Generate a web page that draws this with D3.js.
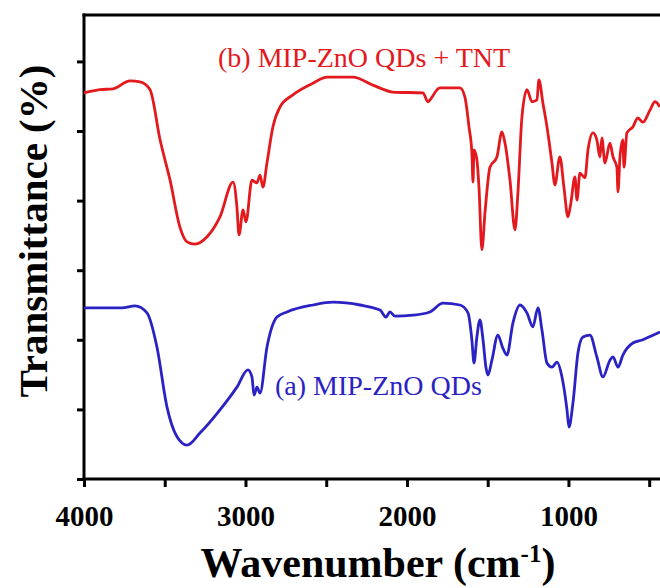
<!DOCTYPE html>
<html>
<head>
<meta charset="utf-8">
<script src="https://cdn.jsdelivr.net/npm/d3@7"></script>
<style>
  body { margin: 0; background: #fff; }
  svg { display: block; }
</style>
</head>
<body>
<div id="chart"></div>
<script>
// wavenumber (cm-1) and transmittance (arb. %)
var wnB = [4000, 3901, 3820, 3715, 3653, 3591, 3529, 3467, 3406, 3362, 3313, 3238, 3158, 3077, 3053, 3040, 3015, 2997, 2960, 2929, 2910, 2892, 2867, 2830, 2786, 2706, 2582, 2495, 2334, 2211, 2087, 1901, 1870, 1845, 1814, 1796, 1672, 1641, 1616, 1598, 1591, 1585, 1567, 1554, 1536, 1517, 1486, 1443, 1412, 1393, 1362, 1331, 1313, 1288, 1257, 1226, 1195, 1183, 1158, 1133, 1102, 1084, 1053, 1028, 1003, 985, 960, 947, 929, 898, 879, 848, 824, 805, 793, 774, 743, 724, 700, 693, 681, 663, 656, 638, 601, 570, 539, 495, 464, 433];
var tB = [83.2, 83.9, 84.1, 85.8, 85.6, 83.9, 73.1, 64.4, 54.3, 51.1, 50.6, 52.2, 56.5, 64.0, 58.6, 52.6, 58.0, 55.4, 64.4, 63.8, 65.5, 62.9, 68.1, 75.9, 80.2, 82.8, 85.3, 86.6, 86.6, 84.9, 83.4, 83.2, 81.3, 82.3, 83.9, 84.3, 84.3, 82.3, 75.9, 70.3, 64.0, 70.9, 68.8, 62.9, 49.4, 57.3, 67.2, 69.4, 74.8, 72.4, 64.4, 53.7, 61.6, 78.0, 83.9, 81.3, 81.7, 86.0, 81.0, 75.9, 68.1, 63.4, 69.4, 62.9, 56.5, 59.5, 65.1, 60.1, 65.9, 64.9, 70.9, 74.6, 73.1, 69.4, 73.5, 68.1, 72.4, 69.4, 67.2, 61.9, 69.4, 73.1, 67.2, 74.6, 75.9, 77.8, 76.9, 79.5, 81.3, 80.2];

var wnA = [4000, 3765, 3684, 3610, 3548, 3486, 3424, 3362, 3282, 3158, 3053, 2985, 2960, 2947, 2929, 2910, 2867, 2805, 2743, 2582, 2458, 2291, 2167, 2130, 2105, 2074, 1963, 1858, 1777, 1672, 1622, 1598, 1585, 1567, 1548, 1529, 1511, 1498, 1474, 1437, 1406, 1381, 1344, 1300, 1257, 1220, 1189, 1164, 1133, 1102, 1071, 1040, 1009, 997, 972, 941, 910, 867, 824, 786, 743, 724, 693, 663, 601, 539, 477, 433];
var tA = [36.9, 36.9, 37.3, 35.8, 28.4, 15.5, 9.1, 7.3, 9.9, 14.9, 19.8, 23.5, 22.0, 18.1, 19.8, 18.5, 28.4, 34.9, 36.0, 37.5, 38.1, 37.5, 36.4, 34.9, 36.0, 35.1, 35.3, 36.0, 37.9, 37.5, 35.8, 30.0, 25.0, 30.6, 34.3, 30.0, 24.1, 22.4, 25.6, 31.0, 28.2, 26.7, 33.6, 37.5, 35.8, 32.8, 36.9, 32.1, 25.0, 24.1, 25.2, 22.0, 14.9, 11.2, 16.4, 27.2, 30.6, 31.0, 26.3, 22.0, 25.6, 26.3, 24.1, 26.7, 29.3, 30.0, 31.0, 31.7];

var xTickMajor = [4000, 3000, 2000, 1000];
var xTickMinor = [3500, 2500, 1500, 500];
var yTicks = [0, 15, 30, 45, 60, 75, 90];

var labelB = "(b) MIP-ZnO QDs + TNT";
var labelA = "(a) MIP-ZnO QDs";

(function(){
	var W = 660, H = 588;
	var mLeft = 84, mTop = 15, mBottom = 479, mRight = 660;
	var serif = "'Liberation Serif', 'Times New Roman', serif";

	var svg = d3.select("#chart").append("svg")
		.attr("width", W)
		.attr("height", H);

	var x = d3.scaleLinear().domain([4000, 433]).range([mLeft, mRight]);
	var y = d3.scaleLinear().domain([0, 100]).range([mBottom, mTop]);

	var line = d3.line()
		.curve(d3.curveMonotoneX)
		.x(function(d){ return x(d[0]); })
		.y(function(d){ return y(d[1]); });

	// frame: top border (plot runs off the right edge)
	svg.append("line")
		.attr("x1", mLeft - 1.5).attr("x2", W)
		.attr("y1", mTop).attr("y2", mTop)
		.attr("stroke", "#000").attr("stroke-width", 3);

	// axes
	var xAxis = svg.append("g")
		.attr("transform", "translate(0," + mBottom + ")")
		.call(d3.axisBottom(x).tickValues(xTickMajor.concat(xTickMinor)).tickSize(8).tickFormat(function(d){
			return xTickMajor.indexOf(d) >= 0 ? d : "";
		}));
	xAxis.select(".domain").attr("stroke-width", 3).attr("d", "M" + (mLeft - 1.5) + ",0H" + W);
	xAxis.selectAll(".tick line").attr("stroke-width", 3);
	xAxis.selectAll(".tick text")
		.attr("y", 47)
		.attr("dy", 0)
		.style("font-family", serif)
		.style("font-weight", "bold")
		.style("font-size", "29px")
		.attr("fill", "#000");

	var yAxis = svg.append("g")
		.attr("transform", "translate(" + mLeft + ",0)")
		.call(d3.axisLeft(y).tickValues(yTicks).tickSize(7).tickFormat(""));
	yAxis.select(".domain").attr("stroke-width", 3).attr("d", "M0," + (mBottom + 1.5) + "V" + (mTop - 1.5));
	yAxis.selectAll(".tick line").attr("stroke-width", 3);

	// spectra
	svg.append("path")
		.datum(d3.zip(wnB, tB))
		.attr("d", line)
		.attr("fill", "none")
		.attr("stroke", "#e3191e")
		.attr("stroke-width", 2.8)
		.attr("stroke-linejoin", "round");

	svg.append("path")
		.datum(d3.zip(wnA, tA))
		.attr("d", line)
		.attr("fill", "none")
		.attr("stroke", "#2b22c4")
		.attr("stroke-width", 2.8)
		.attr("stroke-linejoin", "round");

	// curve labels
	svg.append("text")
		.attr("x", 218).attr("y", 67)
		.attr("fill", "#e3191e")
		.style("font-family", serif)
		.style("font-size", "28px")
		.text(labelB);

	svg.append("text")
		.attr("x", 275).attr("y", 395)
		.attr("fill", "#2b22c4")
		.style("font-family", serif)
		.style("font-size", "28px")
		.text(labelA);

	// axis titles
	svg.append("text")
		.attr("transform", "translate(47,231) rotate(-90)")
		.attr("text-anchor", "middle")
		.style("font-family", serif)
		.style("font-weight", "bold")
		.style("font-size", "41px")
		.text("Transmittance (%)");

	var xt = svg.append("text")
		.attr("x", 378).attr("y", 577)
		.attr("text-anchor", "middle")
		.style("font-family", serif)
		.style("font-weight", "bold")
		.style("font-size", "42px");
	xt.append("tspan").text("Wavenumber (cm");
	xt.append("tspan").attr("dy", -15).style("font-size", "25px").text("-1");
	xt.append("tspan").attr("dy", 15).text(")");
})();
</script>
</body>
</html>
